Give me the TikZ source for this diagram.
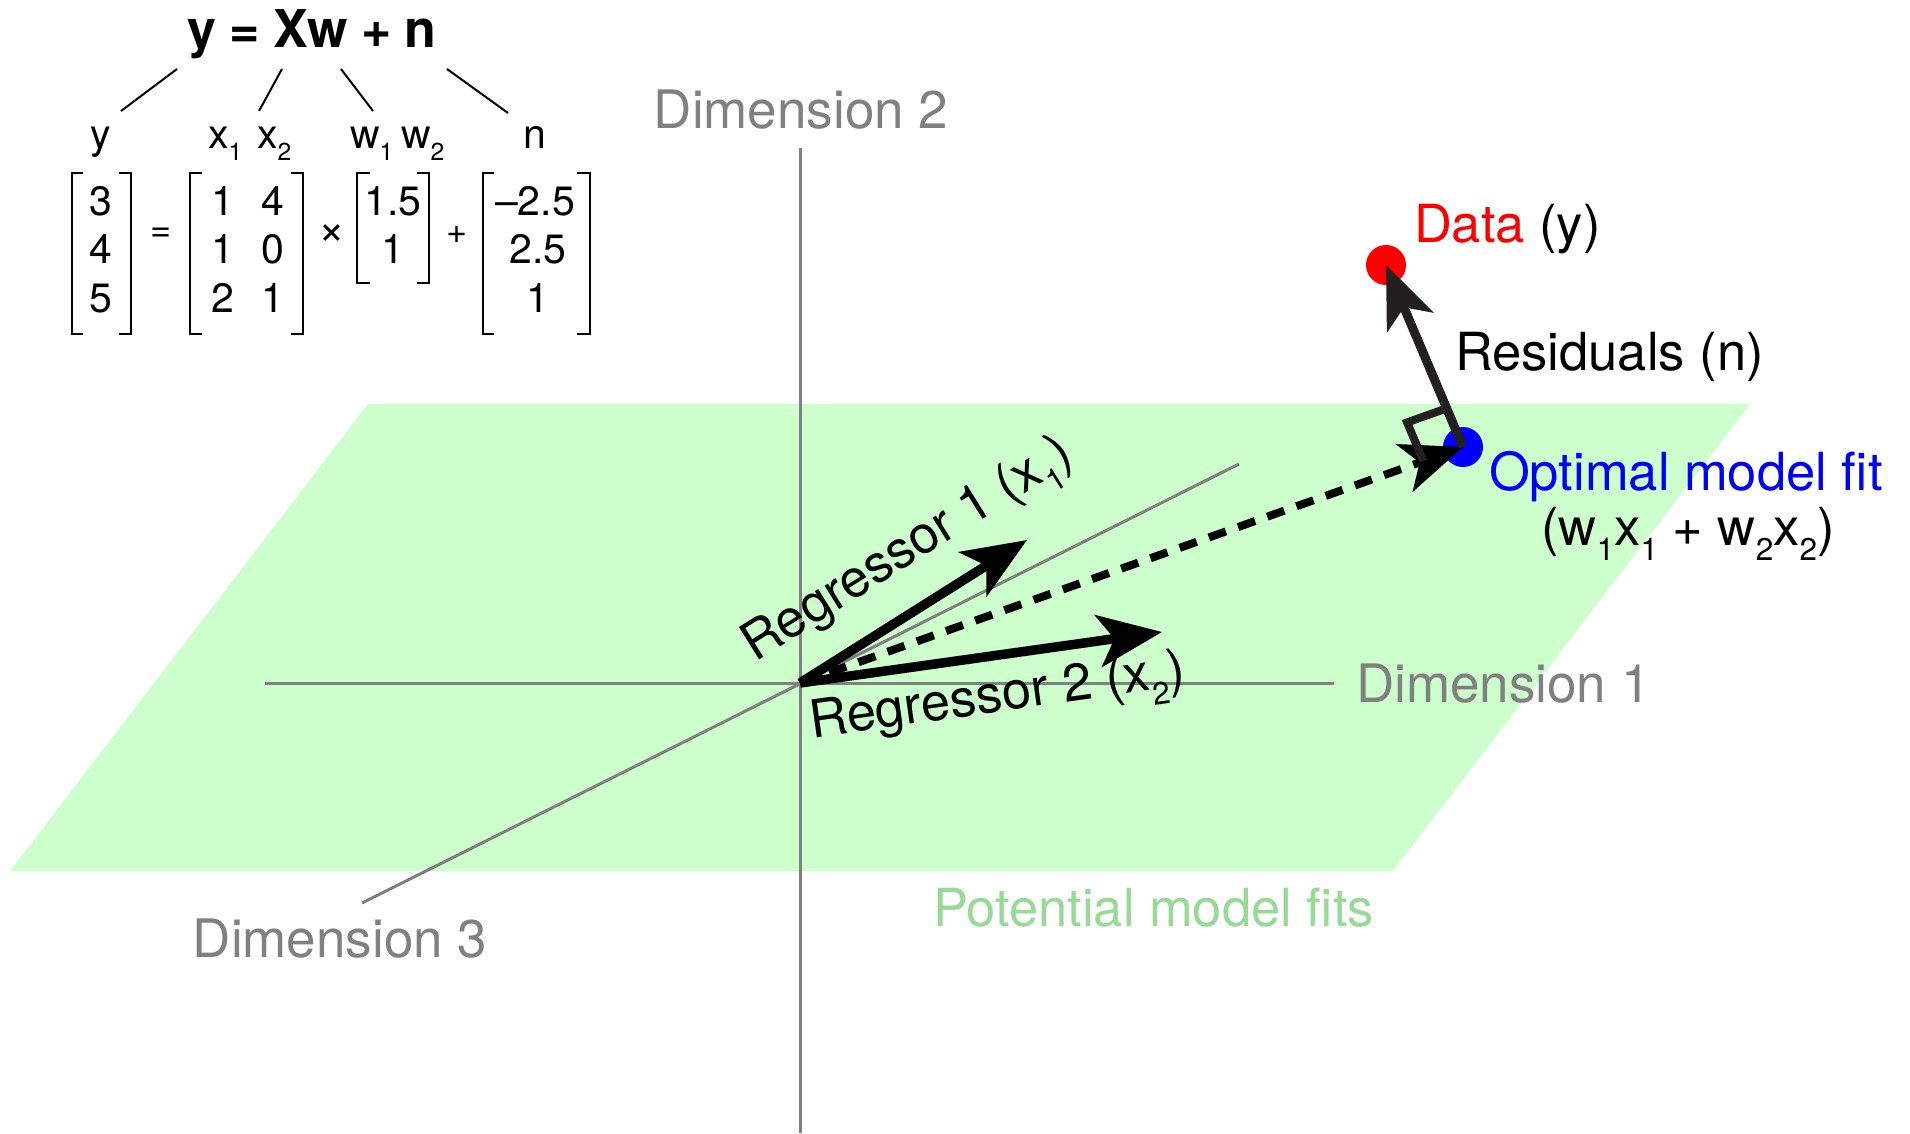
\documentclass[tikz,border=0pt]{standalone}
\usepackage{fontspec}
\setmainfont{TeX Gyre Heros}
\usepackage{graphicx}
\usetikzlibrary{arrows.meta,calc}
\definecolor{planegreen}{HTML}{CCFFCC}
\definecolor{fitgreen}{RGB}{150,218,150}
\definecolor{axisgray}{RGB}{128,128,128}
\definecolor{ink}{HTML}{231F20}
\newcommand\lsub[1]{\raisebox{-0.3em}{\scalebox{0.6}{#1}}}
\newcommand\fsz[1]{\fontsize{#1}{#1}\selectfont}
\begin{document}
\begin{tikzpicture}[x=1pt,y=-1pt,
  every node/.style={inner sep=0pt, outer sep=0pt},
  axisline/.style={draw=axisgray, line width=3pt},
  dimlabel/.style={text=axisgray, font=\fsz{53}},
  biglabel/.style={font=\fsz{52.5}},
  matlabel/.style={font=\fsz{41}},
  opsym/.style={font=\fsz{36}},
  bracketline/.style={draw=black, line width=2.6pt},
  thinline/.style={draw=black, line width=2pt},
  vecarrow/.style={draw=black, line width=9.5pt, -{Stealth[length=64pt,width=52pt,inset=16pt]}},
  resarrow/.style={draw=ink, line width=9pt, -{Stealth[length=62pt,width=50pt,inset=16pt]}},
  fitarrow/.style={draw=black, line width=8pt, dash pattern=on 18pt off 13pt, -{Stealth[length=62pt,width=50pt,inset=16pt]}},
  dot/.style={circle, minimum size=40pt}
]
\useasboundingbox (0,0) rectangle (1910,1133);
% plane
\fill[planegreen] (368,404) -- (1750,404) -- (1393,871) -- (10,871) -- cycle;
% axes
\coordinate (O) at (800,683);
\coordinate (d2top) at (800,148);
\coordinate (d2bot) at (800,1133);
\coordinate (d1left) at (265,683);
\coordinate (d1right) at (1334,683);
\coordinate (d3low) at (362,903);
\coordinate (d3high) at (1239,464);
\draw[axisline] (d2top) -- (d2bot);
\draw[axisline] (d1left) -- (d1right);
\draw[axisline] (d3low) -- (d3high);
\node[dimlabel, anchor=base] (dim2) at (801,128) {Dimension 2};
\node[dimlabel, anchor=base west] (dim1) at (1356,702) {Dimension 1};
\node[dimlabel, anchor=base] (dim3) at (340,957) {Dimension 3};
\node[biglabel, text=fitgreen, anchor=base west] (potential) at (933,926) {Potential model fits};
% points
\node[dot, fill=red] (data) at (1386,265) {};
\node[dot, fill=blue] (fit) at (1463,447) {};
% vectors
\coordinate (r1tip) at (1027,540);
\coordinate (r2tip) at (1162,632);
\draw[fitarrow] (O) -- (fit.center);
\draw[vecarrow] (O) -- (r1tip);
\draw[vecarrow] (O) -- (r2tip);
\draw[resarrow] (fit.center) -- (data.center);
\coordinate (ra1) at ($(fit.center)!42pt!(data.center)$);
\coordinate (ra3) at ($(fit.center)!42pt!(O)$);
\coordinate (ra2) at ($(ra1)+(ra3)-(fit.center)$);
\draw[draw=ink, line width=8pt, miter limit=4] (ra1) -- (ra2) -- (ra3);
% vector labels
\node[biglabel, anchor=base west, rotate=32] (reg1) at (755,662) {Regressor 1 (x\lsub{1})};
\node[biglabel, anchor=base west, rotate=8] (reg2) at (812,738) {Regressor 2 (x\lsub{2})};
\node[biglabel, anchor=base west] (datalab) at (1414,242) {\textcolor{red}{Data} (y)};
\node[biglabel, anchor=base west] (reslab) at (1455,370) {Residuals (n)};
\node[biglabel, anchor=base west, text=blue] (optlab) at (1489,490) {Optimal model fit};
\node[biglabel, anchor=base] (optform) at (1688,545) {(w\lsub{1}x\lsub{1} + w\lsub{2}x\lsub{2})};
% equation
\node[font=\fsz{52}\bfseries, anchor=base] (title) at (312,47) {y\hspace{0.25em}=\hspace{0.25em}Xw\hspace{0.25em}+\hspace{0.25em}n};
\node[matlabel, anchor=base] (hy) at (101,148) {y};
\node[matlabel, anchor=base west] (hx1) at (208,148) {x\lsub{1}};
\node[matlabel, anchor=base west] (hx2) at (257,148) {x\lsub{2}};
\node[matlabel, anchor=base west] (hw1) at (350,148) {w\lsub{1}};
\node[matlabel, anchor=base west] (hw2) at (401,148) {w\lsub{2}};
\node[matlabel, anchor=base] (hn) at (535,148) {n};
\coordinate (t1) at (177,69); \coordinate (b1) at (121,111);
\coordinate (t2) at (282,69); \coordinate (b2) at (259,111);
\coordinate (t3) at (341,69); \coordinate (b3) at (373,111);
\coordinate (t4) at (447,69); \coordinate (b4) at (508,113);
\draw[thinline] (t1) -- (b1);
\draw[thinline] (t2) -- (b2);
\draw[thinline] (t3) -- (b3);
\draw[thinline] (t4) -- (b4);
% y vector
\node[matlabel, anchor=base] (y1) at (101,215) {3};
\node[matlabel, anchor=base] (y2) at (101,263) {4};
\node[matlabel, anchor=base] (y3) at (101,312) {5};
\draw[bracketline] (83,173) -- (72,173) -- (72,334) -- (83,334);
\draw[bracketline] (119,173) -- (131,173) -- (131,334) -- (119,334);
\node[opsym] (eq) at (161,235) {=};
% X matrix
\node[matlabel, anchor=base] (x11) at (223,215) {1};
\node[matlabel, anchor=base] (x12) at (273,215) {4};
\node[matlabel, anchor=base] (x21) at (223,263) {1};
\node[matlabel, anchor=base] (x22) at (273,263) {0};
\node[matlabel, anchor=base] (x31) at (223,312) {2};
\node[matlabel, anchor=base] (x32) at (273,312) {1};
\draw[bracketline] (202,173) -- (190,173) -- (190,334) -- (202,334);
\draw[bracketline] (291,173) -- (303,173) -- (303,334) -- (291,334);
\node[font=\fsz{46}] (times) at (332,235) {×};
% w vector
\node[matlabel, anchor=base] (w1) at (393,215) {1.5};
\node[matlabel, anchor=base] (w2) at (393,263) {1};
\draw[bracketline] (370,173) -- (357,173) -- (357,283) -- (370,283);
\draw[bracketline] (417,173) -- (429,173) -- (429,283) -- (417,283);
\node[opsym] (plus) at (457,235) {+};
% n vector
\node[matlabel, anchor=base] (n1) at (535,215) {--2.5};
\node[matlabel, anchor=base] (n2) at (538,263) {2.5};
\node[matlabel, anchor=base] (n3) at (538,312) {1};
\draw[bracketline] (494,173) -- (483,173) -- (483,334) -- (494,334);
\draw[bracketline] (577,173) -- (590,173) -- (590,334) -- (577,334);
\end{tikzpicture}
\end{document}
